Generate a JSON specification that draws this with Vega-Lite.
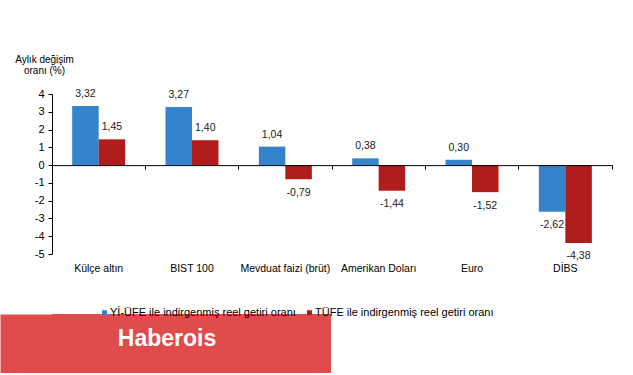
{
  "$schema": "https://vega.github.io/schema/vega-lite/v6.json",
  "background": "white",
  "padding": {"left": 14, "top": 54, "right": 0, "bottom": 0},
  "spacing": 40,
  "config": {
    "view": {"stroke": null},
    "font": "Liberation Sans",
    "locale": {"number": {"decimal": ",", "thousands": ".", "grouping": [3], "currency": ["", ""], "minus": "-"}}
  },
  "vconcat": [
    {
      "width": 560,
      "height": 160,
      "data": {"values": [
        {"cat": "Külçe altın", "series": "Yİ-ÜFE ile indirgenmiş reel getiri oranı", "value": 3.32},
        {"cat": "Külçe altın", "series": "TÜFE ile indirgenmiş reel getiri oranı", "value": 1.45},
        {"cat": "BIST 100", "series": "Yİ-ÜFE ile indirgenmiş reel getiri oranı", "value": 3.27},
        {"cat": "BIST 100", "series": "TÜFE ile indirgenmiş reel getiri oranı", "value": 1.40},
        {"cat": "Mevduat faizi (brüt)", "series": "Yİ-ÜFE ile indirgenmiş reel getiri oranı", "value": 1.04},
        {"cat": "Mevduat faizi (brüt)", "series": "TÜFE ile indirgenmiş reel getiri oranı", "value": -0.79},
        {"cat": "Amerikan Doları", "series": "Yİ-ÜFE ile indirgenmiş reel getiri oranı", "value": 0.38},
        {"cat": "Amerikan Doları", "series": "TÜFE ile indirgenmiş reel getiri oranı", "value": -1.44},
        {"cat": "Euro", "series": "Yİ-ÜFE ile indirgenmiş reel getiri oranı", "value": 0.30},
        {"cat": "Euro", "series": "TÜFE ile indirgenmiş reel getiri oranı", "value": -1.52},
        {"cat": "DİBS", "series": "Yİ-ÜFE ile indirgenmiş reel getiri oranı", "value": -2.62},
        {"cat": "DİBS", "series": "TÜFE ile indirgenmiş reel getiri oranı", "value": -4.38}
      ]},
      "encoding": {
        "xOffset": {"field": "series", "type": "nominal",
          "sort": ["Yİ-ÜFE ile indirgenmiş reel getiri oranı", "TÜFE ile indirgenmiş reel getiri oranı"],
          "scale": {"paddingInner": 0, "paddingOuter": 0.761}},
        "y": {"field": "value", "type": "quantitative",
          "scale": {"domain": [-5, 4], "nice": false, "zero": false},
          "axis": {"values": [-5, -4, -3, -2, -1, 0, 1, 2, 3, 4], "format": "d",
            "domain": true, "domainColor": "#000", "ticks": true, "tickSize": 4, "tickColor": "#000",
            "labelPadding": 4, "labelFontSize": 11, "labelColor": "#000", "grid": false,
            "title": ["Aylık değişim", "oranı (%)"],
            "titleAngle": 0, "titleAlign": "center", "titleBaseline": "alphabetic",
            "titleX": -8, "titleY": -31.5, "titleFontSize": 10, "titleFontWeight": "normal",
            "titleColor": "#000", "titleLineHeight": 11}}
      },
      "resolve": {"axis": {"x": "independent"}},
      "layer": [
        {
          "mark": {"type": "bar"},
          "encoding": {
            "x": {"field": "cat", "type": "nominal", "sort": null,
              "scale": {"paddingInner": 0, "paddingOuter": 0},
              "axis": {"orient": "top", "offset": -71.11, "labels": false, "title": null,
                "domain": true, "domainColor": "#000", "domainWidth": 1,
                "ticks": true, "tickColor": "#000", "tickSize": -4, "tickWidth": 1,
                "bandPosition": 1, "tickExtra": true, "grid": false, "zindex": 1}},
            "color": {"field": "series", "type": "nominal",
              "scale": {"domain": ["Yİ-ÜFE ile indirgenmiş reel getiri oranı", "TÜFE ile indirgenmiş reel getiri oranı"],
                "range": ["#3584cb", "#b01b1b"]},
              "legend": {"orient": "none", "direction": "horizontal", "legendX": 47, "legendY": 213,
                "title": null, "symbolType": "square", "symbolSize": 25, "symbolStrokeWidth": 0,
                "labelFontSize": 11, "labelColor": "#000", "labelOffset": 0, "columnPadding": 8,
                "labelLimit": 300, "padding": 0}}
          }
        },
        {
          "transform": [{"filter": "datum.value >= 0"}],
          "mark": {"type": "text", "baseline": "bottom", "dy": -7, "fontSize": 10.5, "color": "#1a1a1a"},
          "encoding": {
            "x": {"field": "cat", "type": "nominal", "sort": null,
              "axis": {"orient": "bottom", "domain": false, "ticks": false, "tickSize": 0,
                "labelPadding": 9.5, "labelFontSize": 10.5, "labelColor": "#000", "labelAngle": 0, "title": null, "grid": false}},
            "text": {"field": "value", "type": "quantitative", "format": ".2f"}
          }
        },
        {
          "transform": [{"filter": "datum.value < 0"}],
          "mark": {"type": "text", "baseline": "top", "dy": 8.5, "fontSize": 10.5, "color": "#1a1a1a"},
          "encoding": {
            "x": {"field": "cat", "type": "nominal", "sort": null, "axis": null},
            "text": {"field": "value", "type": "quantitative", "format": ".2f"}
          }
        }
      ]
    },
    {
      "width": 279,
      "height": 59,
      "view": {"fill": "#e04b4b", "stroke": null},
      "data": {"values": [{"label": "Haberois"}]},
      "mark": {"type": "text", "color": "#ffffff", "fontSize": 23, "fontWeight": "bold", "align": "center", "baseline": "middle", "dx": -24.5, "dy": -4.5},
      "encoding": {
        "text": {"field": "label", "type": "nominal"},
        "y": {"field": "label", "type": "nominal",
          "axis": {"orient": "left", "offset": 26, "labels": false, "ticks": false, "title": null, "grid": false,
            "domain": true, "domainColor": "#e04b4b", "domainWidth": 52, "domainCap": "butt"}}
      }
    }
  ]
}
